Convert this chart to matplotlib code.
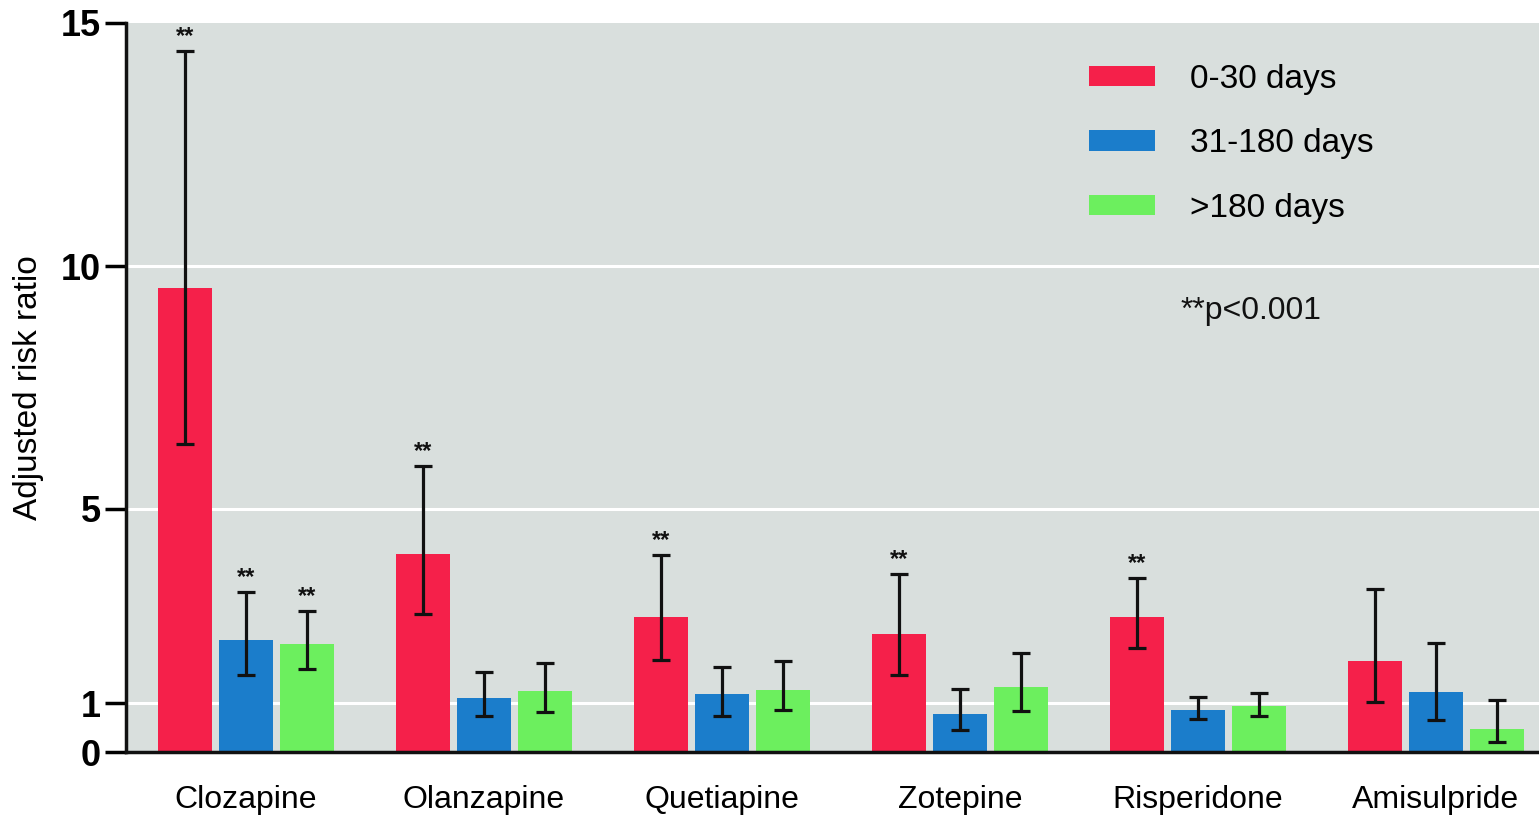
import matplotlib
matplotlib.use("Agg")
import matplotlib.pyplot as plt
import numpy as np

plt.rcParams['font.family'] = ['Liberation Sans', 'DejaVu Sans']

drugs = ["Clozapine", "Olanzapine", "Quetiapine", "Zotepine", "Risperidone", "Amisulpride"]
series = ["0-30 days", "31-180 days", ">180 days"]

rr_0_30 = [9.55, 4.07, 2.77, 2.42, 2.77, 1.87]
lo_0_30 = [6.33, 2.84, 1.89, 1.58, 2.14, 1.03]
hi_0_30 = [14.42, 5.88, 4.05, 3.66, 3.58, 3.35]

rr_31_180 = [2.30, 1.11, 1.19, 0.78, 0.86, 1.23]
lo_31_180 = [1.58, 0.74, 0.74, 0.45, 0.68, 0.66]
hi_31_180 = [3.29, 1.64, 1.75, 1.29, 1.13, 2.24]

rr_180 = [2.22, 1.25, 1.27, 1.34, 0.95, 0.47]
lo_180 = [1.71, 0.82, 0.86, 0.84, 0.74, 0.21]
hi_180 = [2.90, 1.83, 1.87, 2.03, 1.21, 1.07]

sig_0_30 = [True, True, True, True, True, False]
sig_31_180 = [True, False, False, False, False, False]
sig_180 = [True, False, False, False, False, False]

yticks = [0, 1, 5, 10, 15]
gridlines = [1, 5, 10]
note = "**p<0.001"

colors = ["#f5204a", "#1b7dcb", "#6cef5e"]

fig = plt.figure(figsize=(15.39, 8.22), dpi=100)
ax = fig.add_axes([126/1539, 70/822, 1 - 126/1539, (752-23)/822])
ax.set_facecolor("#d9dfdd")

x = np.arange(len(drugs))
step = 61/238
width = 54.5/238

data = [(rr_0_30, lo_0_30, hi_0_30, sig_0_30),
        (rr_31_180, lo_31_180, hi_31_180, sig_31_180),
        (rr_180, lo_180, hi_180, sig_180)]

for gy in gridlines:
    ax.axhline(gy, color="white", lw=2.2, zorder=0.5)

for i, (rr, lo, hi, sig) in enumerate(data):
    xs = x + (i - 1) * step
    rr = np.array(rr); lo = np.array(lo); hi = np.array(hi)
    ax.bar(xs, rr, width=width, color=colors[i], label=series[i], zorder=2)
    ax.errorbar(xs, rr, yerr=[rr - lo, hi - rr], fmt="none", ecolor="#111111",
                elinewidth=2.3, capsize=6.5, capthick=2.3, zorder=3)
    for xx, h, s in zip(xs, hi, sig):
        if s:
            ax.annotate("**", (xx, h), xytext=(0, 2), textcoords="offset points",
                        ha="center", va="bottom", fontsize=17, fontweight="bold",
                        color="#111111")

ax.set_xlim(-0.504, 5.433)
ax.set_ylim(0, 15)
ax.set_yticks(yticks)
ax.set_yticklabels([str(t) for t in yticks], fontsize=26, fontweight="bold")
ax.set_xticks(x)
ax.set_xticklabels(drugs, fontsize=23)
ax.tick_params(axis="x", length=0, pad=24)
ax.tick_params(axis="y", length=15, width=2.5, pad=3)

for sp in ["top", "right"]:
    ax.spines[sp].set_visible(False)
for sp in ["left", "bottom"]:
    ax.spines[sp].set_linewidth(2.5)
    ax.spines[sp].set_color("#111111")

ax.set_ylabel("Adjusted risk ratio", fontsize=24, labelpad=12)

leg = ax.legend(loc="upper left", bbox_to_anchor=(0.66, 0.985), frameon=False,
                fontsize=24, handlelength=2.0, handleheight=0.55,
                handletextpad=1.05, labelspacing=1.0)

ax.text(0.7465, 0.605, note, transform=ax.transAxes, fontsize=23,
        ha="left", va="center", color="#111111")

fig.savefig("out.png", dpi=100)
